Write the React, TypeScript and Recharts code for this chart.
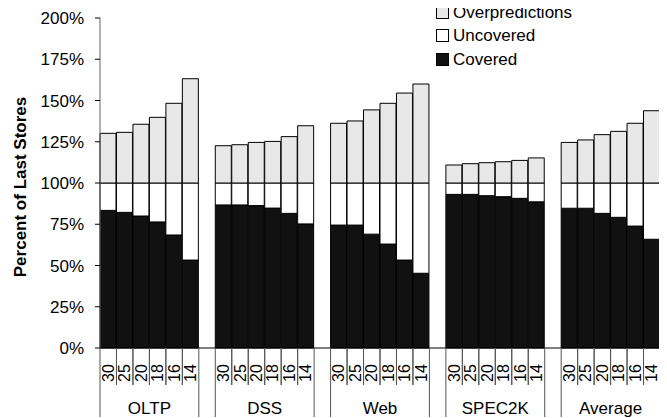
import React from "react";
import { BarChart, Bar, XAxis, YAxis } from "recharts";

const categories = ["OLTP", "DSS", "Web", "SPEC2K", "Average"];
const sizes = ["30", "25", "20", "18", "16", "14"];
const yTicks = [0, 25, 50, 75, 100, 125, 150, 175, 200];

const coveredOLTP = [83.4, 82.2, 80, 76.4, 68.5, 53.3];
const totalOLTP = [130.1, 130.7, 135.6, 139.8, 148.3, 163.2];
const coveredDSS = [86.7, 86.7, 86.3, 84.8, 81.6, 75.2];
const totalDSS = [122.6, 123.2, 124.6, 125.2, 128.1, 134.7];
const coveredWeb = [74.5, 74.5, 69, 63, 53.3, 45.3];
const totalWeb = [136.2, 137.6, 144.3, 148.3, 154.5, 160];
const coveredSPEC = [93.1, 93.1, 92.3, 91.7, 90.7, 88.6];
const totalSPEC = [110.9, 111.7, 112.3, 112.9, 113.7, 115.2];
const coveredAvg = [84.7, 84.7, 81.6, 79.2, 73.9, 65.9];
const totalAvg = [124.6, 126.1, 129.3, 131.3, 136.2, 143.8];

const coveredAll = [coveredOLTP, coveredDSS, coveredWeb, coveredSPEC, coveredAvg];
const totalAll = [totalOLTP, totalDSS, totalWeb, totalSPEC, totalAvg];

type Row = { name: string; covered?: number; uncovered?: number; over?: number };
const data: Row[] = [];
categories.forEach((g, gi) => {
  sizes.forEach((s, si) => {
    const c = coveredAll[gi][si];
    const t = totalAll[gi][si];
    data.push({ name: `${g}|${s}`, covered: c, uncovered: 100 - c, over: t - 100 });
  });
  if (gi < categories.length - 1) data.push({ name: `gap${gi}` });
});

const FONT = "Arial, 'Liberation Sans', Helvetica, sans-serif";
const W = 659;
const H = 410;
const PLOT_LEFT = 92;
const PLOT_RIGHT = 7;
const SLOT = (W - PLOT_LEFT - PLOT_RIGHT) / data.length;

const COLORS = { covered: "#111111", uncovered: "#ffffff", over: "#e8e8e8" };

function CatTick(props: any) {
  const { x, y, payload } = props;
  const name: string = payload.value;
  if (name.startsWith("gap")) return null;
  const [grp, size] = name.split("|");
  const i = sizes.indexOf(size);
  const left = x - SLOT / 2;
  const right = x + SLOT / 2;
  return (
    <g>
      <line x1={left} x2={left} y1={y} y2={y + (i === 0 ? 69 : 37)} stroke="#555" strokeWidth={1} />
      <line x1={right} x2={right} y1={y} y2={y + (i === sizes.length - 1 ? 69 : 37)} stroke="#555" strokeWidth={1} />
      <text
        transform={`translate(${x + 5.5},${y + 34}) rotate(-90)`}
        fontSize={16}
        fontFamily={FONT}
        fill="#000"
        textAnchor="start"
      >
        {size}
      </text>
      {i === 2 && (
        <text x={right} y={y + 66} fontSize={17} fontFamily={FONT} fill="#000" textAnchor="middle">
          {grp}
        </text>
      )}
    </g>
  );
}

const legendItems = [
  { key: "over", label: "Overpredictions" },
  { key: "uncovered", label: "Uncovered" },
  { key: "covered", label: "Covered" },
];

function LegendBox() {
  return (
    <div
      style={{
        position: "absolute",
        left: 428,
        top: -7,
        fontFamily: FONT,
        fontSize: 17,
        color: "#000",
      }}
    >
      {legendItems.map((it) => (
        <div key={it.key} style={{ display: "flex", alignItems: "center", height: 23.3, lineHeight: "23.3px" }}>
          <span
            style={{
              display: "inline-block",
              width: 11,
              height: 11,
              border: "1px solid #000",
              background: (COLORS as any)[it.key],
              marginRight: 4,
            }}
          />
          <span>{it.label}</span>
        </div>
      ))}
    </div>
  );
}

function YLabel(props: any) {
  const { viewBox } = props;
  const cy = viewBox ? viewBox.y + viewBox.height / 2 + 4 : 179;
  return (
    <text
      transform={`translate(12,${cy}) rotate(-90)`}
      textAnchor="middle"
      fontSize={17}
      fontWeight="bold"
      fontFamily={FONT}
      fill="#000"
      dominantBaseline="central"
    >
      Percent of Last Stores
    </text>
  );
}

export default function App() {
  return (
    <div style={{ position: "relative", width: W, height: H }}>
      <BarChart
        width={W}
        height={H}
        data={data}
        margin={{ top: 10, right: PLOT_RIGHT, bottom: 0, left: 32 }}
        barCategoryGap={0}
        barGap={0}
      >
        <XAxis
          dataKey="name"
          interval={0}
          height={70}
          tickLine={false}
          tickSize={0}
          tickMargin={0}
          axisLine={{ stroke: "#000", strokeWidth: 1 }}
          tick={<CatTick />}
        />
        <YAxis
          domain={[0, 200]}
          ticks={yTicks}
          width={60}
          tickFormatter={(v: number) => `${v}%`}
          tick={{ fontSize: 17, fontFamily: FONT, fill: "#000" }}
          tickSize={5}
          tickMargin={11}
          tickLine={{ stroke: "#000" }}
          axisLine={{ stroke: "#666" }}
          label={<YLabel />}
          interval={0}
        />
        <Bar dataKey="covered" stackId="a" fill={COLORS.covered} stroke="#000" strokeWidth={1} isAnimationActive={false} />
        <Bar dataKey="uncovered" stackId="a" fill={COLORS.uncovered} stroke="#000" strokeWidth={1} isAnimationActive={false} />
        <Bar dataKey="over" stackId="a" fill={COLORS.over} stroke="#000" strokeWidth={1} isAnimationActive={false} />
      </BarChart>
      <LegendBox />
    </div>
  );
}
